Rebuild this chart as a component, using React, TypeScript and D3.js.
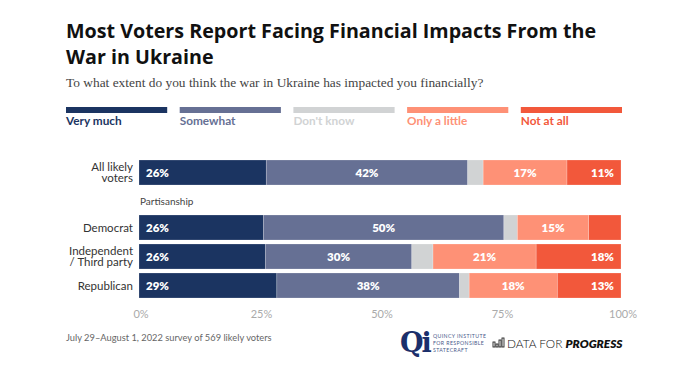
import React, { useEffect, useRef } from "react";
import * as d3 from "d3";

const categories = ["Very much", "Somewhat", "Don't know", "Only a little", "Not at all"];
const colors = ["#1b3461", "#667094", "#d1d3d4", "#fe9176", "#f2583b"];

const allRow = ["All likely voters"];
const allValues = [[26.4, 41.8, 3.2, 17.4, 11.2]];

const partyRows = ["Democrat", "Independent / Third party", "Republican"];
const partyValues = [
  [25.8, 49.9, 2.8, 14.8, 6.7],
  [26.2, 30.4, 4.4, 21.4, 17.6],
  [28.6, 37.9, 2.0, 18.3, 13.2],
];
const rowLabelLines = {
  "All likely voters": ["All likely", "voters"],
  Democrat: ["Democrat"],
  "Independent / Third party": ["Independent", "/ Third party"],
  Republican: ["Republican"],
};

const xTicks = [0, 25, 50, 75, 100];

const SANS = "Lato, 'Open Sans', sans-serif";

const App = () => {
  const ref = useRef<SVGSVGElement>(null);

  useEffect(() => {
    const svg = d3.select(ref.current);
    svg.selectAll("*").remove();

    const x = d3.scaleLinear().domain([0, 100]).range([139, 621]);

    // title
    const title = svg.append("text").attr("font-family", "'Open Sans', sans-serif").attr("font-weight", 700)
      .attr("font-size", 19.7).attr("fill", "#111");
    title.append("tspan").attr("x", 66).attr("y", 38).text("Most Voters Report Facing Financial Impacts From the");
    title.append("tspan").attr("x", 66).attr("y", 64).text("War in Ukraine");

    svg.append("text").attr("x", 66).attr("y", 87)
      .attr("font-family", "'Liberation Serif', serif").attr("font-size", 13.4).attr("fill", "#444")
      .text("To what extent do you think the war in Ukraine has impacted you financially?");

    // legend
    const legendX = d3.scaleBand().domain(categories).range([66, 622]).paddingInner(0.11).paddingOuter(0);
    const lg = svg.append("g");
    lg.selectAll("rect").data(categories).join("rect")
      .attr("x", (d) => legendX(d)!)
      .attr("y", 107)
      .attr("width", legendX.bandwidth())
      .attr("height", 6)
      .attr("fill", (d, i) => colors[i]);
    lg.selectAll("text").data(categories).join("text")
      .attr("x", (d) => legendX(d)!)
      .attr("y", 125)
      .attr("font-family", SANS).attr("font-weight", 700).attr("font-size", 11.8)
      .attr("fill", (d, i) => colors[i])
      .text((d) => d);

    const drawRows = (rows, values, y) => {
      const g = svg.append("g");
      rows.forEach((row, ri) => {
        const vals = values[ri];
        const starts = d3.cumsum([0, ...vals]);
        const top = y(row);
        const h = y.bandwidth();
        vals.forEach((v, ci) => {
          g.append("rect")
            .attr("x", x(starts[ci]))
            .attr("y", top)
            .attr("width", x(starts[ci] + v) - x(starts[ci]))
            .attr("height", h)
            .attr("fill", colors[ci])
            .attr("stroke", "#fff")
            .attr("stroke-opacity", 0.35)
            .attr("stroke-width", 0.6);
          if (v >= 10) {
            let tx = (x(starts[ci]) + x(starts[ci] + v)) / 2;
            let anchor = "middle";
            if (ci === 0) { tx = x(starts[ci]) + 7; anchor = "start"; }
            if (ci === vals.length - 1) { tx = x(starts[ci] + v) - 7; anchor = "end"; }
            g.append("text")
              .attr("x", tx)
              .attr("y", top + h / 2 + 4)
              .attr("text-anchor", anchor)
              .attr("font-family", SANS).attr("font-weight", 800).attr("font-size", 11.5)
              .attr("fill", "#fff")
              .text(Math.round(v) + "%");
          }
        });
        const lines = rowLabelLines[row];
        const lt = g.append("text").attr("text-anchor", "end").attr("font-family", SANS)
          .attr("font-size", 11.5).attr("fill", "#333");
        lines.forEach((l, li) => {
          lt.append("tspan").attr("x", 133)
            .attr("y", top + h / 2 + 4 + (li - (lines.length - 1) / 2) * 11.5)
            .text(l);
        });
      });
    };

    const yAll = d3.scaleBand().domain(allRow).range([160, 185]);
    drawRows(allRow, allValues, yAll);

    svg.append("text").attr("x", 140).attr("y", 205)
      .attr("font-family", SANS).attr("font-size", 10).attr("fill", "#444").text("Partisanship");

    const yParty = d3.scaleBand().domain(partyRows).range([215, 298]).paddingInner(4 / 29);
    drawRows(partyRows, partyValues, yParty);

    // axis labels
    svg.append("g").selectAll("text").data(xTicks).join("text")
      .attr("x", (d) => x(d) + 2)
      .attr("y", 318)
      .attr("text-anchor", "middle")
      .attr("font-family", SANS).attr("font-size", 11).attr("fill", "#aaa")
      .text((d) => d + "%");

    svg.append("text").attr("x", 66).attr("y", 341)
      .attr("font-family", SANS).attr("font-size", 9.3).attr("fill", "#666")
      .text("July 29–August 1, 2022 survey of 569 likely voters");

    // Qi logo
    svg.append("text").attr("x", 400).attr("y", 352)
      .attr("font-family", "'DejaVu Serif', serif").attr("font-weight", 700).attr("font-size", 27)
      .attr("fill", "#1b2f6b").attr("letter-spacing", -2).text("Qi");
    const qi = svg.append("text").attr("font-family", SANS).attr("font-size", 5.2)
      .attr("fill", "#4a5a8a").attr("letter-spacing", 0.4);
    ["QUINCY INSTITUTE", "FOR RESPONSIBLE", "STATECRAFT"].forEach((t, i) => {
      qi.append("tspan").attr("x", 433).attr("y", 338 + i * 7).text(t);
    });

    // Data for Progress logo
    const icon = svg.append("g").attr("fill", "none").attr("stroke", "#222").attr("stroke-width", 0.9);
    [[0, 4], [3, 6], [6, 2], [9, 0]].forEach(([dx, dy]) => {
      icon.append("rect").attr("x", 493 + dx).attr("y", 338 + dy).attr("width", 2).attr("height", 9 - dy);
    });
    const dfp = svg.append("text").attr("x", 507).attr("y", 347.5)
      .attr("font-family", SANS).attr("font-size", 11.8).attr("fill", "#111");
    dfp.append("tspan").attr("font-weight", 300).text("DATA FOR ");
    dfp.append("tspan").attr("font-weight", 800).attr("font-style", "italic").text("PROGRESS");
  }, []);

  return (
    <svg ref={ref} width={700} height={371} style={{ position: "absolute", left: 0, top: 0, background: "#fff" }} />
  );
};

export default App;
